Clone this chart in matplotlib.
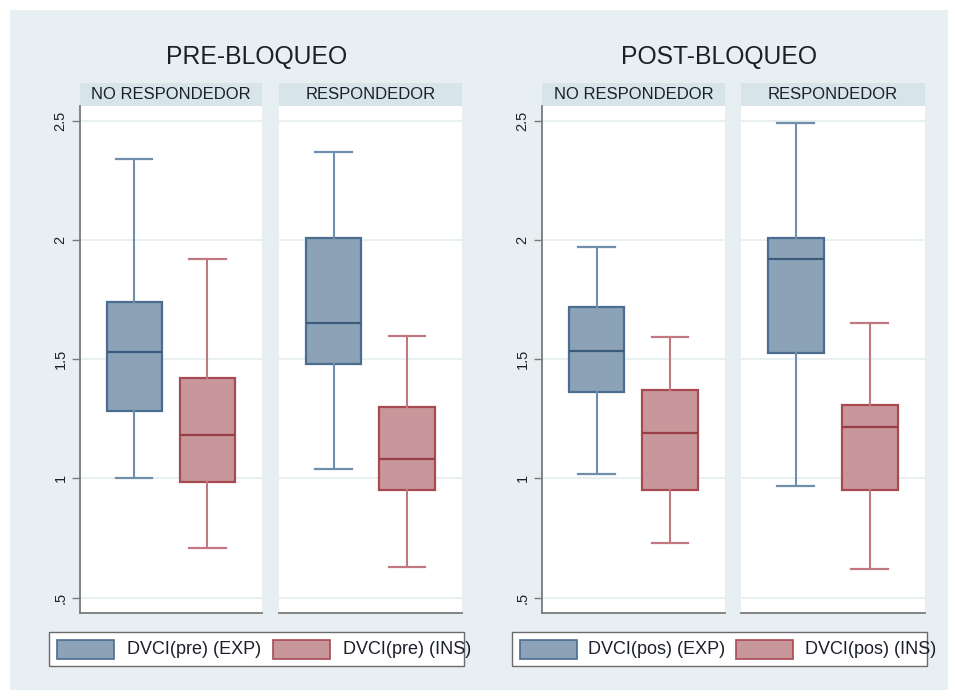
import matplotlib
matplotlib.use("Agg")
import matplotlib.pyplot as plt
from matplotlib.patches import Rectangle

plt.rcParams['font.family'] = ['Liberation Sans', 'DejaVu Sans']

# Panel headings and series names
block_titles = ["PRE-BLOQUEO", "POST-BLOQUEO"]
groups = ["NO RESPONDEDOR", "RESPONDEDOR"]
legend_pre = ["DVCI(pre) (EXP)", "DVCI(pre) (INS)"]
legend_pos = ["DVCI(pos) (EXP)", "DVCI(pos) (INS)"]

# Box summaries: lower whisker, Q1, median, Q3, upper whisker
pre_exp_no = [1.000, 1.283, 1.532, 1.739, 2.339]
pre_ins_no = [0.707, 0.983, 1.181, 1.420, 1.919]
pre_exp_si = [1.040, 1.480, 1.651, 2.008, 2.370]
pre_ins_si = [0.630, 0.950, 1.080, 1.300, 1.599]
pos_exp_no = [1.019, 1.361, 1.535, 1.718, 1.970]
pos_ins_no = [0.729, 0.951, 1.192, 1.370, 1.591]
pos_exp_si = [0.969, 1.525, 1.920, 2.010, 2.490]
pos_ins_si = [0.620, 0.950, 1.214, 1.309, 1.650]

ytick_vals = [0.5, 1.0, 1.5, 2.0, 2.5]
ytick_labels = [".5", "1", "1.5", "2", "2.5"]

W, H = 955, 698
fig = plt.figure(figsize=(W / 100, H / 100), dpi=100)
fig.patch.set_facecolor("white")

BG = "#e8eff2"
STRIP = "#d7e4ea"
GRID = "#e6eff1"
AXC = "#7a7a7a"
TXT = "#1b1f2a"

EXP_FILL, EXP_EDGE, EXP_WHISK, EXP_MED = "#8ca2b6", "#4b6d8f", "#6e8eab", "#3b5b7c"
INS_FILL, INS_EDGE, INS_WHISK, INS_MED = "#c8979b", "#a84a52", "#c27880", "#9a3d46"

# Outer panel background
fig.add_artist(Rectangle((10 / W, 1 - 690 / H), 938 / W, 680 / H,
                         transform=fig.transFigure, facecolor=BG,
                         edgecolor="none", zorder=0))


def px_axes(x0, x1, y0, y1):
    return fig.add_axes([x0 / W, 1 - y1 / H, (x1 - x0) / W, (y1 - y0) / H])


def stats(v):
    return dict(whislo=v[0], q1=v[1], med=v[2], q3=v[3], whishi=v[4], fliers=[])


def draw_panel(ax, exp, ins, label, show_y):
    ax.set_facecolor("white")
    ax.set_xlim(0, 1)
    ax.set_ylim(0.435, 2.562)
    for yv in ytick_vals:
        ax.axhline(yv, color=GRID, lw=1.3, zorder=0)
    for vals, pos, fc, ec, wc, mc in [
        (exp, 0.298, EXP_FILL, EXP_EDGE, EXP_WHISK, EXP_MED),
        (ins, 0.700, INS_FILL, INS_EDGE, INS_WHISK, INS_MED),
    ]:
        ax.bxp([stats(vals)], positions=[pos], widths=0.304, capwidths=0.2,
               patch_artist=True, showfliers=False, manage_ticks=False,
               boxprops=dict(facecolor=fc, edgecolor=ec, linewidth=1.6),
               whiskerprops=dict(color=wc, linewidth=1.5),
               capprops=dict(color=wc, linewidth=1.6),
               medianprops=dict(color=mc, linewidth=1.6))
    ax.set_xticks([])
    for s in ["top", "right"]:
        ax.spines[s].set_visible(False)
    ax.spines["bottom"].set_color(AXC)
    ax.spines["bottom"].set_linewidth(1.3)
    if show_y:
        ax.spines["left"].set_color(AXC)
        ax.spines["left"].set_linewidth(1.3)
        ax.set_yticks(ytick_vals)
        ax.set_yticklabels(ytick_labels, rotation=90, va="center",
                           fontsize=10.5, color=TXT)
        ax.tick_params(axis="y", length=6, width=1.0, color=AXC, pad=3)
    else:
        ax.spines["left"].set_visible(False)
        ax.set_yticks([])
    # Strip header above the plot region
    sh = 23 / 507
    ax.add_patch(Rectangle((0, 1.0), 1, sh, transform=ax.transAxes,
                           facecolor=STRIP, edgecolor="none", clip_on=False))
    ax.text(0.5, 1 + sh / 2, label, transform=ax.transAxes, ha="center",
            va="center", fontsize=12, color=TXT)


panels = [
    ((80, 262), pre_exp_no, pre_ins_no, groups[0], True),
    ((279, 462), pre_exp_si, pre_ins_si, groups[1], False),
    ((542, 725), pos_exp_no, pos_ins_no, groups[0], True),
    ((741, 925), pos_exp_si, pos_ins_si, groups[1], False),
]
for (x0, x1), e, i, lab, sy in panels:
    ax = px_axes(x0, x1, 106, 613)
    draw_panel(ax, e, i, lab, sy)

# Block titles
fig.text(257 / W, 1 - 57 / H, block_titles[0], ha="center", va="center",
         fontsize=17.8, color=TXT)
fig.text(719 / W, 1 - 57 / H, block_titles[1], ha="center", va="center",
         fontsize=17.8, color=TXT)


# Legends drawn as framed rows of keys
def draw_legend(x0, x1, keys_x, texts_x, labels):
    fig.add_artist(Rectangle((x0 / W, 1 - 666 / H), (x1 - x0) / W, 34 / H,
                             transform=fig.transFigure, facecolor="white",
                             edgecolor="#6b6b6b", linewidth=1.0, zorder=2))
    for kx, tx, lab, fc, ec in zip(keys_x, texts_x, labels,
                                   [EXP_FILL, INS_FILL], [EXP_EDGE, INS_EDGE]):
        fig.add_artist(Rectangle((kx / W, 1 - 659 / H), 57 / W, 19 / H,
                                 transform=fig.transFigure, facecolor=fc,
                                 edgecolor=ec, linewidth=1.2, zorder=3))
        fig.text(tx / W, 1 - 649.5 / H, lab, ha="left", va="center",
                 fontsize=13, color=TXT, zorder=4)


draw_legend(49, 464, [57, 273], [127, 343], legend_pre)
draw_legend(512, 927, [520, 736], [588, 805], legend_pos)

fig.savefig("out.png", dpi=100, facecolor=fig.get_facecolor())
